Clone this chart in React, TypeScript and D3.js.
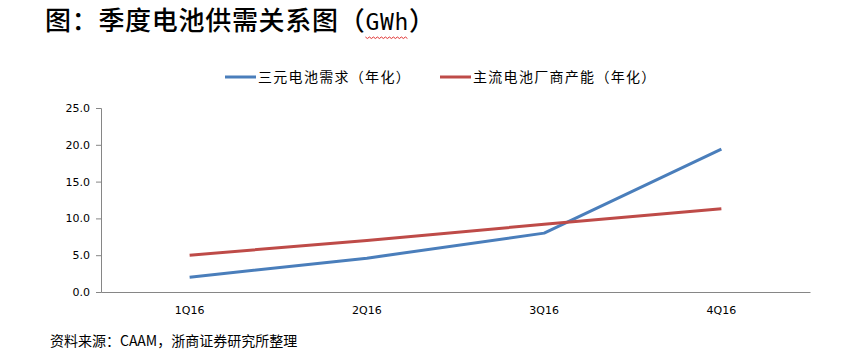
import React, { useEffect, useRef } from "react";
import * as d3 from "d3";

const categories = ["1Q16", "2Q16", "3Q16", "4Q16"];
const demandSeries = [2.0, 4.6, 8.0, 19.4];
const capacitySeries = [5.0, 7.0, 9.2, 11.3];
const yTicks = [0, 5, 10, 15, 20, 25];
const seriesNames = ["三元电池需求（年化）", "主流电池厂商产能（年化）"];
const titlePre = "图：季度电池供需关系图（";
const titleUnit = "GWh";
const titlePost = "）";
const sourceText = "资料来源：CAAM，浙商证券研究所整理";

const W = 854;
const H = 357;

export default function App() {
  const ref = useRef<SVGSVGElement>(null);
  useEffect(() => {
    const svg = d3.select(ref.current);
    svg.selectAll("*").remove();
    const left = 101, right = 810, top = 108, bottom = 292;
    const x = d3.scaleBand().domain(categories).range([left, right]);
    const y = d3.scaleLinear().domain([0, 25]).range([bottom, top]);
    const axisColor = "#868686";

    const title = svg.append("text").attr("x", 45).attr("y", 30)
      .attr("font-family", "'Noto Sans CJK SC', sans-serif").attr("font-size", 26)
      .attr("font-weight", 500).attr("letter-spacing", 0.7).attr("fill", "#000");
    title.append("tspan").text(titlePre);
    const unit = title.append("tspan").text(titleUnit).attr("font-family", "'DejaVu Sans Mono', monospace").attr("font-size", 23);
    title.append("tspan").text(titlePost);
    const ub = (unit.node() as SVGTSpanElement).getComputedTextLength();
    const tnode = title.node() as SVGTextElement;
    const startIdx = titlePre.length;
    const sp = tnode.getStartPositionOfChar(startIdx);
    const pts: [number, number][] = [];
    for (let xx = 0; xx <= ub; xx += 2) pts.push([sp.x + xx, 37 + ((xx / 2) % 2 === 0 ? 0 : 1.5)]);
    svg.append("path").attr("d", d3.line()(pts)).attr("fill", "none").attr("stroke", "#e03030").attr("stroke-width", 1);

    const ya = svg.append("g").attr("transform", `translate(${left},0)`)
      .call(d3.axisLeft(y).tickValues(yTicks).tickFormat(d3.format(".1f")).tickSizeOuter(0).tickSize(5).tickPadding(6));
    ya.select(".domain").attr("stroke", axisColor);
    ya.selectAll("line").attr("stroke", axisColor);
    ya.selectAll("text").attr("font-family", "Tahoma, 'DejaVu Sans', sans-serif").attr("font-size", 11).attr("fill", "#000");

    const xa = svg.append("g").attr("transform", `translate(0,${bottom})`)
      .call(d3.axisBottom(x).tickSize(0).tickSizeOuter(0).tickPadding(14));
    xa.select(".domain").attr("stroke", axisColor);
    xa.selectAll("text").attr("font-family", "Tahoma, 'DejaVu Sans', sans-serif").attr("font-size", 11).attr("fill", "#000");

    const line = d3.line<number>()
      .x((_, i) => (x(categories[i]) as number) + x.bandwidth() / 2)
      .y((d) => y(d));

    const colors = ["#4a7ebb", "#be4b48"];
    [demandSeries, capacitySeries].forEach((s, i) => {
      svg.append("path").datum(s).attr("d", line).attr("fill", "none")
        .attr("stroke", colors[i]).attr("stroke-width", 3).attr("stroke-linejoin", "round");
    });

    const legendX = [225, 440];
    seriesNames.forEach((n, i) => {
      svg.append("line").attr("x1", legendX[i]).attr("x2", legendX[i] + 31)
        .attr("y1", 77).attr("y2", 77).attr("stroke", colors[i]).attr("stroke-width", 3);
      svg.append("text").attr("x", legendX[i] + 33).attr("y", 82).text(n)
        .attr("font-family", "'Noto Sans CJK SC', sans-serif").attr("font-size", 14).attr("letter-spacing", 1.3).attr("fill", "#000");
    });

    svg.append("text").attr("x", 50).attr("y", 346).text(sourceText)
      .attr("font-family", "'Noto Sans CJK SC', sans-serif").attr("font-size", 14).attr("fill", "#000");
  }, []);
  return <svg ref={ref} width={W} height={H} style={{ position: "absolute", left: 0, top: 0, background: "#fff" }} />;
}
